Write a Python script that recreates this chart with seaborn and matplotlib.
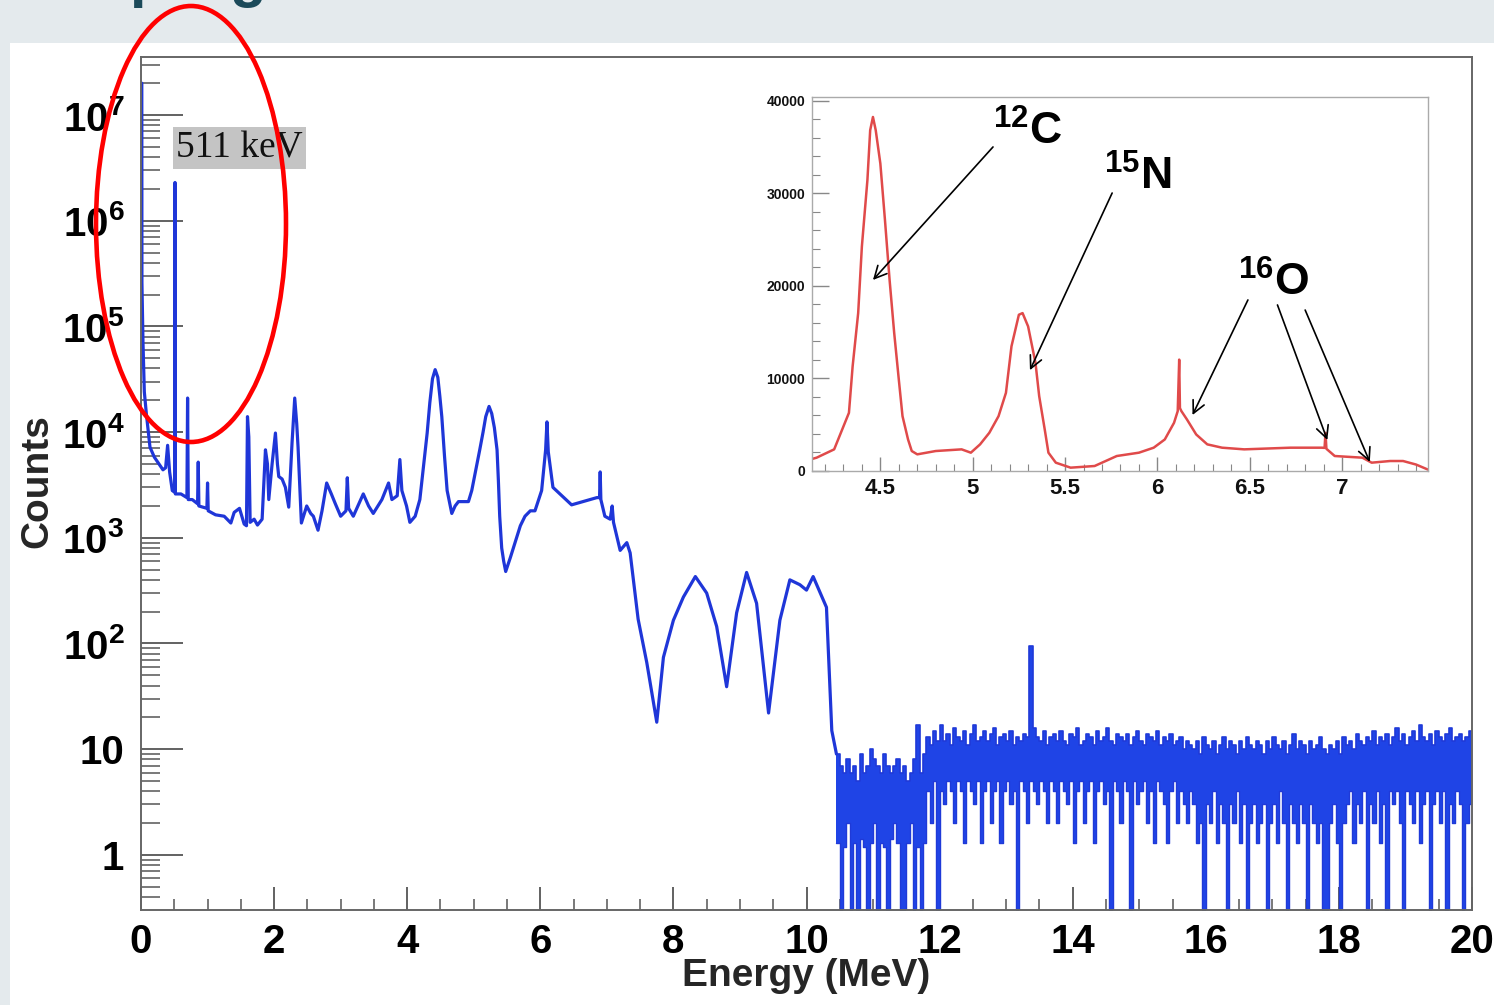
import numpy as np
import matplotlib
matplotlib.use("Agg")
import matplotlib.pyplot as plt
import seaborn as sns
from matplotlib.patches import Ellipse, Rectangle
from matplotlib.ticker import FixedLocator, LogLocator, MultipleLocator, NullFormatter

# ---------------- data ----------------
main_energy = [0.000, 0.012, 0.014, 0.030, 0.050, 0.080, 0.135, 0.20, 0.33, 0.37, 0.40, 0.43, 0.47,
               0.505, 0.511, 0.517, 0.60, 0.69, 0.70, 0.71, 0.77, 0.85, 0.86, 0.87, 0.93, 0.99, 1.00,
               1.01, 1.12, 1.25, 1.35, 1.40, 1.48, 1.55, 1.585, 1.60, 1.62, 1.64, 1.70, 1.75, 1.82,
               1.87, 1.90, 1.92, 1.97, 2.02, 2.05, 2.07, 2.12, 2.17, 2.22, 2.27, 2.31, 2.34, 2.36,
               2.41, 2.49, 2.55, 2.59, 2.66, 2.72, 2.79, 2.86, 2.92, 3.00, 3.08, 3.10, 3.12, 3.19,
               3.34, 3.42, 3.49, 3.62, 3.72, 3.77, 3.85, 3.89, 3.92, 3.99, 4.04, 4.12, 4.19, 4.30,
               4.34, 4.38, 4.42, 4.46, 4.49, 4.52, 4.56, 4.60, 4.67, 4.72, 4.77, 4.85, 4.92, 4.97,
               5.09, 5.14, 5.18, 5.23, 5.27, 5.31, 5.35, 5.37, 5.39, 5.42, 5.45, 5.48, 5.55, 5.62,
               5.70, 5.77, 5.85, 5.92, 6.02, 6.08, 6.10, 6.12, 6.19, 6.34, 6.47, 6.64, 6.85, 6.89,
               6.90, 6.91, 6.97, 7.05, 7.08, 7.10, 7.20, 7.30, 7.35, 7.47, 7.60, 7.75, 7.85, 8.00,
               8.15, 8.33, 8.50, 8.65, 8.80, 8.95, 9.10, 9.25, 9.43, 9.60, 9.75, 9.90, 10.00, 10.10,
               10.30, 10.38, 10.45]
main_counts = [2.0e7, 2.0e7, 2.6e5, 7.0e4, 2.4e4, 1.5e4, 7.2e3, 5.8e3, 4.4e3, 4.6e3, 7.5e3, 4.2e3, 2.8e3,
               2.7e3, 2.3e6, 2.6e3, 2.6e3, 2.4e3, 2.1e4, 2.3e3, 2.3e3, 2.1e3, 5.2e3, 2.0e3, 1.95e3, 1.9e3, 3.3e3,
               1.8e3, 1.65e3, 1.6e3, 1.38e3, 1.74e3, 1.9e3, 1.35e3, 1.3e3, 1.4e4, 9.0e3, 1.4e3, 1.5e3, 1.32e3, 1.5e3,
               6.8e3, 5.0e3, 2.3e3, 5.0e3, 9.8e3, 5.0e3, 3.8e3, 3.6e3, 3.0e3, 1.95e3, 8.0e3, 2.1e4, 1.2e4, 7.2e3,
               1.38e3, 2.0e3, 1.7e3, 1.6e3, 1.18e3, 1.8e3, 3.3e3, 2.6e3, 2.1e3, 1.6e3, 1.8e3, 3.7e3, 1.9e3, 1.6e3,
               2.6e3, 2.0e3, 1.7e3, 2.3e3, 3.3e3, 2.3e3, 2.5e3, 5.5e3, 2.8e3, 2.0e3, 1.4e3, 1.6e3, 2.3e3, 9.8e3,
               1.9e4, 3.2e4, 3.9e4, 3.3e4, 2.2e4, 1.4e4, 6.0e3, 2.8e3, 1.7e3, 2.0e3, 2.2e3, 2.2e3, 2.2e3, 2.8e3,
               6.8e3, 1.0e4, 1.4e4, 1.75e4, 1.5e4, 1.1e4, 6.8e3, 3.5e3, 1.6e3, 8.0e2, 6.0e2, 4.8e2, 6.5e2, 9.0e2,
               1.3e3, 1.6e3, 1.8e3, 1.8e3, 2.8e3, 6.8e3, 1.25e4, 6.5e3, 3.0e3, 2.45e3, 2.05e3, 2.2e3, 2.4e3, 2.4e3,
               4.2e3, 2.3e3, 1.6e3, 1.5e3, 2.0e3, 1.4e3, 7.6e2, 9.0e2, 7.2e2, 1.7e2, 66, 18, 74, 166,
               275, 430, 300, 145, 39, 195, 470, 240, 22, 166, 400, 360, 320, 430,
               220, 15, 9]

# noise region: per-bin upper / lower envelope of the finely binned histogram
noise_start = 10.45
noise_bin = 0.05
noise_upper = [
    9, 7, 6, 8, 6, 7, 5, 9, 6, 7, 10, 8, 7, 6, 9, 7, 6, 7, 8, 6, 7, 5, 6, 8, 17, 6, 9,
    13, 11, 15, 12, 17, 12, 14, 11, 16, 13, 12, 15, 11, 14, 17, 12, 13, 15, 12, 14,
    16, 11, 13, 14, 12, 15, 11, 13, 12, 14, 13, 94, 16, 13, 12, 15, 11, 13, 14, 12,
    15, 12, 11, 14, 13, 16, 11, 12, 14, 13, 11, 15, 12, 13, 16, 12, 11, 14, 13, 12,
    14, 11, 13, 15, 12, 11, 14, 13, 12, 15, 11, 13, 12, 14, 11, 12, 13, 10, 12, 11,
    10, 12, 9, 13, 11, 10, 12, 9, 11, 13, 10, 12, 11, 9, 12, 10, 13, 11, 10, 12,
    11, 9, 12, 10, 13, 11, 10, 12, 9, 11, 14, 10, 12, 11, 9, 12, 10, 11, 13, 10,
    9, 11, 10, 12, 9, 13, 11, 12, 10, 14, 12, 11, 13, 12, 15, 11, 13, 12, 14, 11,
    13, 16, 12, 14, 11, 13, 15, 12, 17, 13, 12, 14, 11, 15, 13, 12, 14, 16, 12, 13,
    14, 12, 13, 15]
noise_lower = [
    1.3, 0.2, 1.2, 2, 0.2, 1.3, 0.2, 1.4, 1.2, 0.2, 1.3, 2, 0.2, 1.3, 1.2, 0.2, 1.4, 2, 1.3, 0.2,
    0.2, 1.3, 2, 0.2, 1.2, 0.2, 1.3,
    4, 2, 5, 0.2, 4, 3, 5, 4, 2, 5, 4, 1.3, 5, 4, 3, 5, 1.3, 4, 5, 2,
    4, 5, 1.3, 4, 5, 3, 4, 0.2, 5, 4, 2, 5, 4, 3, 5, 4, 2, 5, 4, 2,
    5, 4, 3, 5, 1.3, 4, 5, 2, 4, 5, 1.3, 4, 5, 3, 4, 0.2, 5, 4, 2, 5,
    4, 0.2, 5, 3, 4, 5, 2, 4, 1.3, 5, 4, 3, 1.3, 4, 5, 2, 4, 3, 2, 4,
    3, 1.3, 2, 0.2, 3, 2, 4, 1.3, 3, 2, 0.2, 3, 2, 4, 1.3, 3, 0.2, 2, 3, 1.3,
    2, 3, 0.2, 2, 3, 1.3, 4, 2, 0.2, 3, 2, 1.3, 3, 2, 0.2, 3, 2, 1.3, 2, 0.2,
    0.2, 2, 3, 1.3, 0.2, 2, 3, 4, 1.3, 3, 2, 4, 0.2, 3, 2, 4, 1.3, 3, 0.2, 4,
    3, 4, 2, 0.2, 4, 3, 2, 4, 1.3, 3, 4, 0.2, 3, 4, 2, 4, 0.2, 3, 2, 4,
    3, 0.2, 2, 3]

inset_energy = [4.13, 4.155, 4.25, 4.33, 4.35, 4.38, 4.40, 4.43, 4.445, 4.46, 4.475, 4.50, 4.525,
                4.55, 4.575, 4.60, 4.62, 4.65, 4.67, 4.70, 4.80, 4.94, 4.99, 5.04, 5.09, 5.14,
                5.18, 5.21, 5.25, 5.27, 5.30, 5.34, 5.36, 5.39, 5.41, 5.45, 5.53, 5.66, 5.78,
                5.90, 5.98, 6.04, 6.09, 6.11, 6.118, 6.122, 6.13, 6.16, 6.21, 6.27, 6.35, 6.47,
                6.72, 6.89, 6.905, 6.91, 6.915, 6.96, 7.11, 7.16, 7.26, 7.33, 7.40, 7.465]
inset_counts = [1300, 1440, 2340, 6290, 11320, 17070, 24260, 31450, 36840, 38270, 36840, 33240, 27130,
                20670, 14920, 9880, 5930, 3410, 2160, 1800, 2160, 2340, 1980, 2880, 4130, 5930,
                8450, 13480, 16890, 17070, 15630, 11680, 8090, 4490, 1980, 900, 360, 540, 1620,
                1980, 2520, 3410, 5210, 6470, 12040, 6800, 6470, 5570, 3950, 2880, 2520, 2340,
                2520, 2520, 2500, 4130, 2400, 1620, 1440, 900, 1080, 1080, 700, 150]

x_ticks = [0, 2, 4, 6, 8, 10, 12, 14, 16, 18, 20]
x_tick_labels = ["0", "2", "4", "6", "8", "10", "12", "14", "16", "18", "20"]
y_ticks = [1, 10, 1e2, 1e3, 1e4, 1e5, 1e6, 1e7]
y_tick_labels = ["1", "10", r"$10^{2}$", r"$10^{3}$", r"$10^{4}$", r"$10^{5}$", r"$10^{6}$", r"$10^{7}$"]
inset_x_ticks = [4.5, 5, 5.5, 6, 6.5, 7]
inset_x_labels = ["4.5", "5", "5.5", "6", "6.5", "7"]
inset_y_ticks = [0, 10000, 20000, 30000, 40000]
inset_y_labels = ["0", "10000", "20000", "30000", "40000"]

isotope_labels = [r"$^{12}$C", r"$^{15}$N", r"$^{16}$O"]
isotope_label_pos = [(5.295, 36650), (5.891, 31780), (6.627, 20320)]
arrow_tails = [(5.11, 35030), (5.755, 30050), (6.49, 18490), (6.65, 17950), (6.80, 17400)]
arrow_heads = [(4.46, 20650), (5.31, 10900), (6.19, 6050), (6.92, 3350), (7.15, 970)]

# ---------------- style ----------------
sns.set_theme(style="white")
plt.rcParams["font.family"] = ["Liberation Sans", "DejaVu Sans"]
plt.rcParams["mathtext.fontset"] = "custom"
plt.rcParams["mathtext.rm"] = "Liberation Sans:bold"
plt.rcParams["mathtext.it"] = "Liberation Sans:bold"
plt.rcParams["mathtext.bf"] = "Liberation Sans:bold"

W, H = 1494, 1005
fig = plt.figure(figsize=(W / 100, H / 100), dpi=100, facecolor="#e4eaed")

# white slide panel
fig.add_artist(Rectangle((10 / W, 0), (W - 10) / W, (H - 43) / H, transform=fig.transFigure,
                         facecolor="white", edgecolor="none", zorder=-10))

# slide title, cut off by the top edge (only descenders visible, as in the reference)
fig.text(129 / W, 1 + 4 / H, "p", fontsize=43, fontweight="bold", color="#1b4a5a", va="baseline")
fig.text(229 / W, 1 + 4 / H, "g", fontsize=43, fontweight="bold", color="#1b4a5a", va="baseline")

# ---------------- main axes ----------------
ax = fig.add_axes([141 / W, (H - 910) / H, (1472 - 141) / W, (910 - 57) / H])
ax.set_facecolor("white")
ax.set_yscale("log")

blue = "#1f36d8"
sns.lineplot(x=main_energy, y=main_counts, ax=ax, color=blue, lw=2.3, sort=False, estimator=None)

noise_edges = noise_start + noise_bin * np.arange(len(noise_upper) + 1)
upper_y = noise_upper + [noise_upper[-1]]
lower_y = noise_lower + [noise_lower[-1]]
ax.fill_between(noise_edges, lower_y, upper_y, step="post", color="#1f44e6", lw=0)
sns.lineplot(x=noise_edges, y=upper_y, ax=ax, color="#1f3ad8", lw=1.2, sort=False,
             estimator=None, drawstyle="steps-post")
sns.lineplot(x=noise_edges, y=lower_y, ax=ax, color="#1f3ad8", lw=1.0, sort=False,
             estimator=None, drawstyle="steps-post")

ax.set_xlim(0, 20)
ax.set_ylim(0.301, 3.54e7)

ax.xaxis.set_major_locator(FixedLocator(x_ticks))
ax.set_xticklabels(x_tick_labels)
ax.xaxis.set_minor_locator(MultipleLocator(0.5))
ax.yaxis.set_major_locator(FixedLocator(y_ticks))
ax.set_yticklabels(y_tick_labels)
ax.yaxis.set_minor_locator(LogLocator(base=10, subs=np.arange(2, 10), numticks=30))
ax.yaxis.set_minor_formatter(NullFormatter())

ax.tick_params(axis="both", which="both", direction="in", color="#555555", labelcolor="black",
               left=True, bottom=True, top=False, right=False)
ax.tick_params(axis="y", which="major", length=30, width=1.3, pad=12, labelsize=29)
ax.tick_params(axis="y", which="minor", length=14, width=1.1)
ax.tick_params(axis="x", which="major", length=16.5, width=1.3, pad=9, labelsize=29)
ax.tick_params(axis="x", which="minor", length=8, width=1.1)
for lab in ax.get_xticklabels() + ax.get_yticklabels():
    lab.set_fontweight("bold")
for side in ["left", "bottom", "top", "right"]:
    ax.spines[side].set_color("#666666")
    ax.spines[side].set_linewidth(1.4)
ax.set_xlabel("")
ax.set_ylabel("")

fig.text(806 / W, 1 - 976 / H, "Energy (MeV)", ha="center", va="center", fontsize=28, fontweight="bold")
fig.text(37 / W, 1 - 481 / H, "Counts", ha="center", va="center", rotation=90, fontsize=28,
         fontweight="bold")

# 511 keV label
fig.text(176 / W, 1 - 148 / H, "511 keV", ha="left", va="center", fontsize=27,
         family=["Liberation Serif", "DejaVu Serif"], color="#111111",
         bbox=dict(facecolor="#c4c4c4", edgecolor="none", pad=2.5), zorder=5)

# ---------------- inset ----------------
axin = fig.add_axes([812 / W, (H - 471) / H, (1428 - 812) / W, (471 - 97) / H])
axin.set_facecolor("white")
sns.lineplot(x=inset_energy, y=inset_counts, ax=axin, color="#e04a4a", lw=1.8, sort=False, estimator=None)
axin.set_xlim(4.13, 7.465)
axin.set_ylim(0, 40430)
axin.xaxis.set_major_locator(FixedLocator(inset_x_ticks))
axin.set_xticklabels(inset_x_labels)
axin.xaxis.set_minor_locator(MultipleLocator(0.1))
axin.yaxis.set_major_locator(FixedLocator(inset_y_ticks))
axin.set_yticklabels(inset_y_labels)
axin.yaxis.set_minor_locator(MultipleLocator(2000))
axin.tick_params(axis="both", which="both", direction="in", color="#888888", labelcolor="#111111",
                 left=True, bottom=True, top=False, right=False)
axin.tick_params(axis="y", which="major", length=12, width=1.0, pad=5, labelsize=10)
axin.tick_params(axis="y", which="minor", length=6, width=0.8)
axin.tick_params(axis="x", which="major", length=10, width=1.0, pad=5, labelsize=16)
axin.tick_params(axis="x", which="minor", length=5, width=0.8)
for lab in axin.get_xticklabels() + axin.get_yticklabels():
    lab.set_fontweight("bold")
for side in ["left", "bottom", "top", "right"]:
    axin.spines[side].set_color("#aaaaaa")
    axin.spines[side].set_linewidth(1.0)
axin.set_xlabel("")
axin.set_ylabel("")

for text, (tx, ty) in zip(isotope_labels, isotope_label_pos):
    axin.text(tx, ty, text, ha="center", va="center", fontsize=32, fontweight="bold", color="black")
for tail, head in zip(arrow_tails, arrow_heads):
    axin.annotate("", xy=head, xytext=tail, xycoords="data", textcoords="data",
                  arrowprops=dict(arrowstyle="->", color="black", lw=1.2, mutation_scale=22,
                                  shrinkA=0, shrinkB=0))

# red ellipse highlight
fig.add_artist(Ellipse((191 / W, 1 - 224 / H), 190 / W, 436 / H, transform=fig.transFigure,
                       fill=False, edgecolor="#ff0000", lw=3.3, zorder=20))

fig.savefig("out.png", dpi=100, facecolor=fig.get_facecolor())
